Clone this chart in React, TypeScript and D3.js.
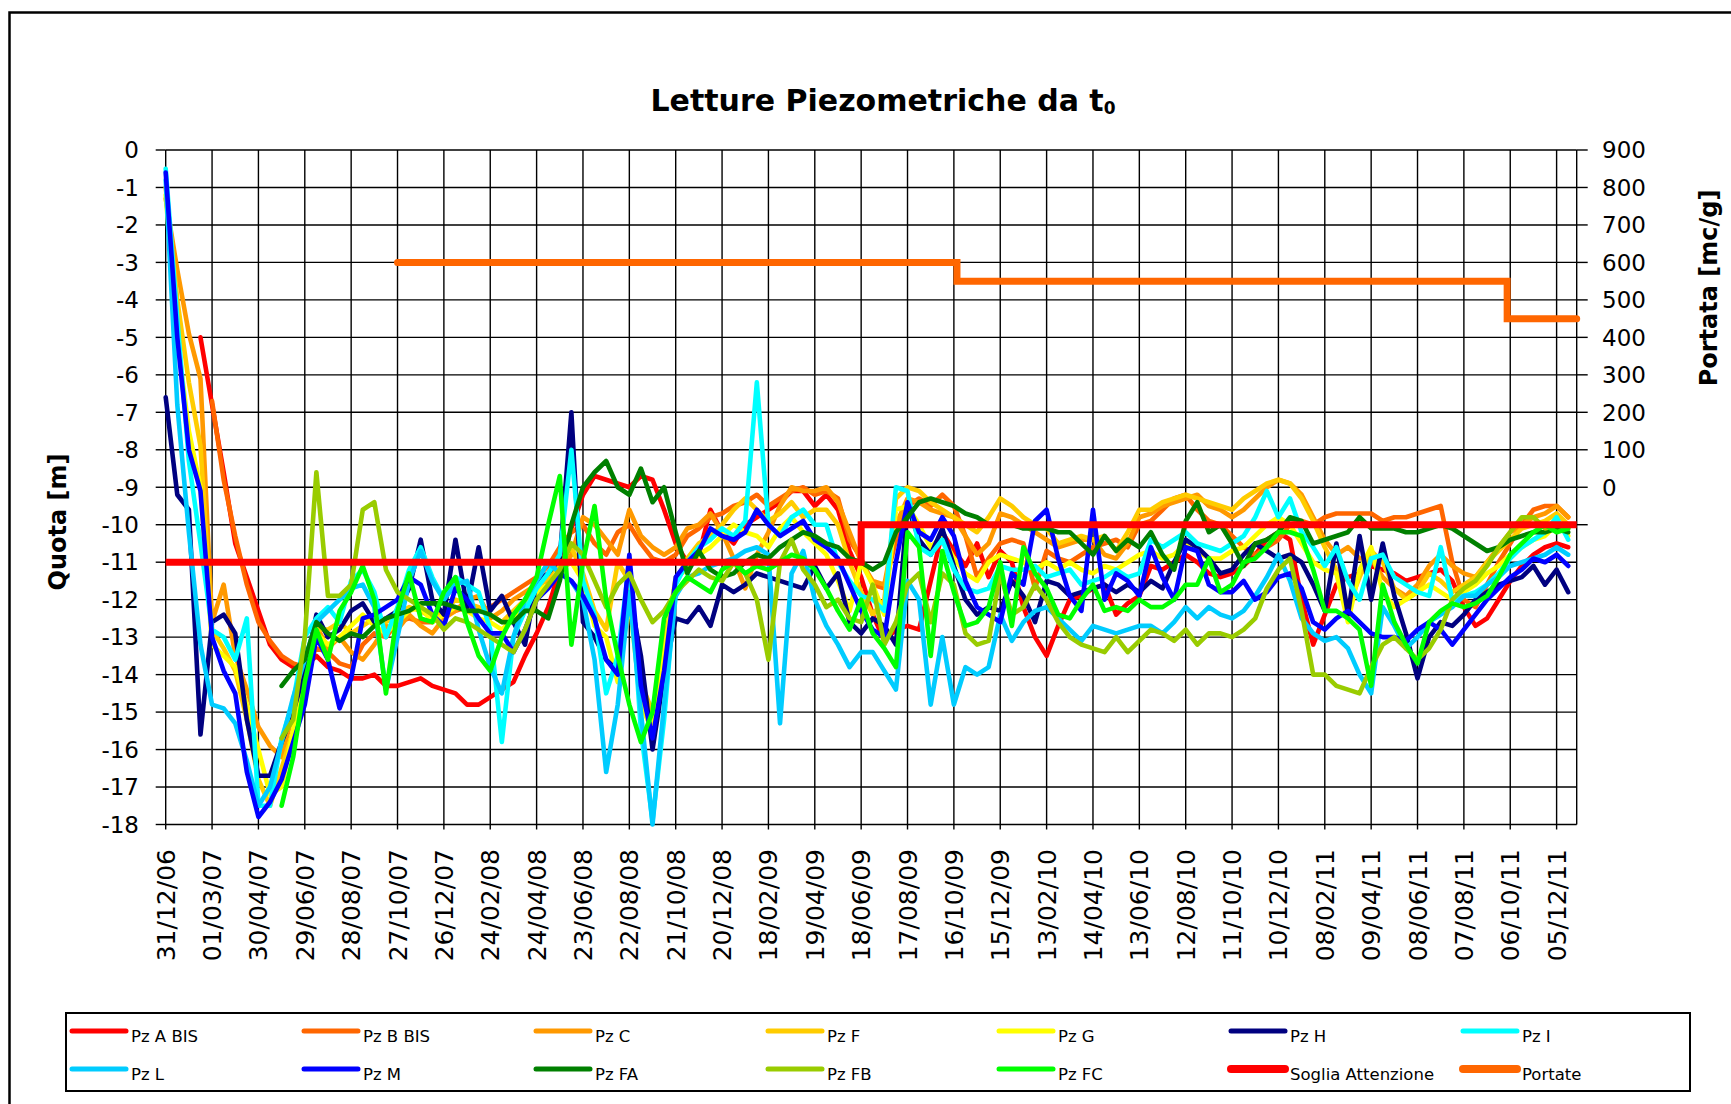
import React from 'react';
import * as d3 from 'd3';

// ---------- data ----------
const START_DATE = '2006-12-31';
const END_DATE = '2011-12-31';
const SAMPLE_STEP_DAYS = 15; // readings sampled every 15 days from START_DATE

const X_TICK_LABELS = [
  '31/12/06', '01/03/07', '30/04/07', '29/06/07', '28/08/07', '27/10/07', '26/12/07',
  '24/02/08', '24/04/08', '23/06/08', '22/08/08', '21/10/08', '20/12/08', '18/02/09',
  '19/04/09', '18/06/09', '17/08/09', '16/10/09', '15/12/09', '13/02/10', '14/04/10',
  '13/06/10', '12/08/10', '11/10/10', '10/12/10', '08/02/11', '09/04/11', '08/06/11',
  '07/08/11', '06/10/11', '05/12/11',
];
const Y_LEFT_TICKS = [0, -1, -2, -3, -4, -5, -6, -7, -8, -9, -10, -11, -12, -13, -14, -15, -16, -17, -18];
const Y_RIGHT_LABELS = [900, 800, 700, 600, 500, 400, 300, 200, 100, 0];
const Y_RIGHT_TICKS = [900, 800, 700, 600, 500, 400, 300, 200, 100, 0, -100];

const PZ_A_BIS = [
  null, null, null, -5.0, -6.8, -8.6, -10.5, -11.4, -12.3, -13.2,
  -13.6, -13.8, -13.8, -13.5, -13.8, -13.9, -14.1, -14.1, -14.0, -14.3,
  -14.3, -14.2, -14.1, -14.3, -14.4, -14.5, -14.8, -14.8, -14.6, -14.4,
  -14.2, -13.5, -12.9, -12.2, -11.2, -10.1, -9.2, -8.7, -8.8, -8.9,
  -9.0, -8.7, -8.8, -9.6, -10.5, -11.0, -10.8, -9.6, -10.2, -10.5,
  -10.0, -9.8, -9.6, -9.4, -9.1, -9.1, -9.5, -9.2, -9.6, -10.7,
  -11.4, -12.4, -13.1, -12.8, -12.7, -12.8, -11.5, -10.2, -10.7, -11.1,
  -10.5, -11.4, -10.7, -11.0, -12.2, -13.0, -13.5, -12.7, -12.0, -11.9,
  -11.7, -11.6, -12.4, -12.1, -11.9, -11.1, -11.2, -11.0, -10.8, -11.0,
  -11.3, -11.4, -11.3, -11.1, -10.8, -10.4, -10.2, -10.4, -12.0, -13.2,
  -12.4, -11.6, -11.4, -11.3, -11.1, -11.2, -11.3, -11.5, -11.4, -11.3,
  -11.2, -11.5, -12.2, -12.7, -12.5, -12.0, -11.5, -11.1, -10.8, -10.6,
  -10.5, -10.6,
];
const PZ_B_BIS = [
  null, null, null, null, -6.7, -8.8, -10.3, -11.6, -12.6, -13.1,
  -13.5, -13.7, -13.8, -13.3, -13.4, -13.7, -13.8, -13.2, -12.9, -13.0,
  -12.6, -12.5, -12.6, -12.6, -12.4, -12.3, -12.2, -12.3, -12.2, -12.0,
  -11.8, -11.6, -11.4, -11.1, -10.6, -10.2, -10.0, -10.5, -10.8, -10.2,
  -10.0, -10.5, -10.9, -11.0, -10.8, -10.3, -10.1, -9.8, -9.7, -9.5,
  -9.4, -9.2, -9.5, -9.3, -9.1, -9.0, -9.2, -9.1, -9.3, -10.4,
  -10.9, -11.6, -11.7, -10.4, -9.5, -9.3, -9.5, -9.2, -9.5, -10.3,
  -11.4, -10.9, -10.5, -10.4, -10.5, -11.7, -10.7, -10.9, -11.0, -10.8,
  -10.6, -10.5, -10.4, -10.6, -10.0, -9.9, -9.6, -9.3, -9.2, -9.6,
  -9.9, -10.0, -10.3, -10.6, -10.8, -10.6, -10.4, -10.0, -9.9, -10.0,
  -9.8, -9.7, -9.7, -9.7, -9.7, -9.9, -9.8, -9.8, -9.7, -9.6,
  -9.5, -11.0, -12.0, -12.2, -11.6, -11.0, -10.5, -10.0, -9.6, -9.5,
  -9.5, -9.8,
];
const PZ_C = [
  -1.3, -3.2, -4.9, -6.1, -12.6, -11.6, -13.5, -14.4, -15.4, -15.9,
  -16.2, -15.0, -14.4, -12.7, -13.3, -13.0, -13.4, -13.6, -13.2, -12.7,
  -12.8, -12.4, -12.7, -12.9, -12.5, -12.3, -12.0, -11.9, -12.5, -12.3,
  -12.0, -11.8, -11.6, -11.5, -11.3, -10.8, -9.8, -10.0, -10.4, -10.8,
  -9.6, -10.3, -10.6, -10.8, -10.6, -10.1, -10.0, -9.7, -10.2, -10.9,
  -11.7, -10.8, -10.2, -9.5, -9.0, -9.1, -9.1, -9.0, -9.4, -10.2,
  -11.0, -11.5, -11.6, -10.0, -9.3, -9.4, -9.6, -9.7, -9.8, -10.3,
  -10.8, -10.5, -9.7, -9.8, -10.0, -10.2, -10.4, -10.6, -10.5, -10.4,
  -10.4, -10.8, -10.9, -10.5, -9.8, -9.7, -9.5, -9.4, -9.3, -9.2,
  -9.5, -9.6, -9.8, -9.6, -9.3, -9.0, -8.8, -8.9, -9.2, -9.8,
  -10.4, -10.8, -10.6, -10.9, -10.9, -11.4, -11.7, -11.9, -11.6, -11.1,
  -10.8, -11.1, -11.3, -11.4, -11.0, -10.6, -10.2, -10.0, -9.8, -9.7,
  -9.5, -9.8,
];
const PZ_F = [
  -1.0, -4.0, -6.2, -7.9, -12.8, -13.3, -13.9, -15.2, -16.8, -17.5,
  -16.5, -15.5, -14.3, -12.8, -12.8, -12.6, -12.9, -12.7, -12.5, -12.6,
  -12.4, -12.2, -12.3, -12.5, -12.3, -12.0, -12.1, -12.2, -12.4, -12.6,
  -12.3, -12.0, -11.7, -11.4, -11.0, -10.6, -11.3, -12.3, -12.8, -11.0,
  -11.5, -14.2, -15.0, -13.2, -11.5, -10.9, -10.5, -10.3, -10.0, -9.6,
  -9.3, -9.6, -9.9, -9.7, -9.4, -9.8, -9.6, -9.6, -10.0, -11.0,
  -11.8, -12.4, -12.0, -9.3, -9.0, -9.1, -9.4, -9.6, -9.8, -10.0,
  -10.2, -9.8, -9.3, -9.5, -9.8, -10.0, -10.1, -10.5, -10.4, -10.3,
  -10.4, -10.3, -10.7, -10.2, -9.6, -9.6, -9.4, -9.3, -9.2, -9.3,
  -9.4, -9.5, -9.6, -9.3, -9.1, -8.9, -8.8, -8.9, -9.3, -9.9,
  -10.6, -11.2, -12.2, -11.4, -10.7, -11.0, -11.7, -12.0, -11.8, -11.3,
  -11.5, -11.8, -11.6, -11.4, -11.0, -10.7, -10.4, -10.1, -10.0, -9.9,
  -9.7, -10.0,
];
const PZ_G = [
  -1.2, -5.0, -7.5, -9.0, -13.2, -13.5, -13.8, -14.8, -16.0, -17.2,
  -17.0, -15.5, -14.0, -12.9, -13.2, -13.0, -12.7, -12.4, -12.7, -12.9,
  -12.6, -12.3, -12.2, -12.6, -12.4, -12.2, -12.3, -12.5, -12.6, -12.8,
  -12.5, -12.2, -11.8, -11.6, -11.2, -11.0, -11.5, -12.7, -13.0, -14.2,
  -12.0, -14.8, -15.5, -13.5, -11.4, -11.2, -10.8, -10.6, -10.3, -10.0,
  -10.2, -10.3, -10.6, -10.1, -9.8, -10.2, -10.5, -10.8, -11.5, -12.3,
  -11.0, -11.6, -12.4, -9.6, -9.5, -10.0, -10.6, -10.3, -10.9, -11.3,
  -11.5, -11.0, -10.8, -10.9, -11.0, -11.2, -11.0, -11.2, -11.0, -11.2,
  -11.3, -11.1, -11.2, -11.0, -10.8, -10.7, -10.9, -10.8, -10.5, -10.7,
  -10.9, -10.9, -10.7, -10.6, -10.3, -10.0, -9.8, -10.0, -10.5, -11.0,
  -11.2, -11.3, -12.6, -11.2, -10.6, -11.8, -12.2, -12.0, -11.8, -11.6,
  -11.8, -12.0, -11.8, -11.6, -11.3, -11.1, -10.8, -10.6, -10.4, -10.3,
  -10.0, -10.3,
];
const PZ_H = [
  -6.6, -9.2, -9.6, -15.6, -12.6, -12.4, -12.9, -15.2, -16.7, -16.7,
  -15.8, -15.0, -13.9, -12.4, -13.0, -12.8, -12.3, -12.1, -12.6, -12.5,
  -12.3, -11.7, -10.4, -12.0, -12.4, -10.4, -12.2, -10.6, -12.3, -11.9,
  -12.6, -13.2, -11.5, -11.3, -10.9, -7.0, -12.6, -13.0, -13.6, -13.9,
  -11.8, -13.5, -16.0, -14.0, -12.5, -12.6, -12.2, -12.7, -11.6, -11.8,
  -11.6, -11.3, -11.4, -11.5, -11.6, -11.7, -11.1, -11.7, -11.3, -12.6,
  -12.9, -12.5, -12.7, -13.2, -9.5, -10.4, -10.8, -10.1, -11.1, -12.0,
  -12.4, -12.2, -12.3, -11.5, -11.9, -12.6, -11.5, -11.6, -11.9, -11.8,
  -11.7, -11.6, -11.8, -11.6, -11.8, -11.5, -11.7, -11.0, -10.4, -10.6,
  -10.9, -11.3, -11.2, -10.8, -10.5, -10.7, -10.9, -10.8, -11.0, -11.6,
  -12.3, -10.5, -12.4, -10.3, -12.0, -10.5, -11.9, -12.9, -14.1, -13.0,
  -12.6, -12.7, -12.4, -12.0, -11.8, -11.6, -11.5, -11.4, -11.1, -11.6,
  -11.2, -11.8,
];
const PZ_I = [
  -0.5, -4.5, -8.3, -10.5, -12.8, -13.0, -13.6, -12.5, -17.5, -17.5,
  -15.7, -14.7, -13.0, -12.5, -12.2, -12.6, -11.5, -11.2, -11.8, -13.0,
  -12.2, -11.2, -10.6, -11.4, -12.0, -11.4, -11.6, -11.8, -12.8, -15.8,
  -13.0, -12.3, -11.7, -11.3, -10.8, -8.0, -11.5, -12.4, -14.5, -13.5,
  -11.0, -15.5, -17.9, -15.2, -11.6, -11.0, -10.6, -10.4, -10.1, -10.3,
  -9.9, -6.2, -10.0, -10.3, -9.8, -9.6, -10.0, -10.0, -11.0, -11.5,
  -11.9, -12.0, -12.3, -9.0, -9.1, -10.6, -10.8, -10.4, -11.2, -11.7,
  -11.8, -11.7, -11.1, -11.2, -11.2, -11.1, -11.4, -11.3, -11.2, -11.6,
  -11.5, -11.4, -11.2, -11.4, -11.3, -10.4, -10.6, -10.4, -10.2, -10.5,
  -10.6, -10.7, -10.5, -10.3, -9.8, -9.1, -9.8, -9.3, -10.2, -10.6,
  -11.1, -10.6, -11.5, -12.0, -10.9, -10.8, -11.4, -11.6, -11.8, -11.9,
  -10.6, -12.0, -11.9, -11.8, -11.6, -11.3, -10.9, -10.6, -10.4, -10.2,
  -9.8, -10.4,
];
const PZ_L = [
  -0.8, -6.8, -10.2, -13.2, -14.8, -14.9, -15.3, -16.3, -17.5, -17.0,
  -15.8, -14.6, -13.6, -12.6, -12.3, -12.0, -11.7, -11.6, -12.2, -14.4,
  -13.0, -11.5, -10.7, -11.5, -12.0, -11.6, -11.5, -12.8, -13.8, -14.5,
  -13.0, -12.0, -11.5, -11.0, -11.3, -11.5, -12.0, -13.6, -16.6, -14.8,
  -11.8, -15.0, -18.0, -14.8, -11.9, -11.4, -11.3, -11.1, -11.0, -10.9,
  -10.7, -10.6, -10.8, -15.3, -11.3, -10.7, -12.0, -12.7, -13.2, -13.8,
  -13.4, -13.4, -13.9, -14.4, -11.5, -12.0, -14.8, -13.0, -14.8, -13.8,
  -14.0, -13.8, -12.4, -13.1, -12.6, -12.3, -12.2, -12.5, -12.8, -13.1,
  -12.7, -12.8, -12.9, -12.8, -12.7, -12.7, -12.9, -12.6, -12.2, -12.5,
  -12.2, -12.4, -12.5, -12.3, -11.9, -11.4, -10.8, -11.5, -12.5, -12.9,
  -13.1, -13.0, -13.3, -14.0, -14.5, -12.2, -12.7, -13.3, -13.0, -12.6,
  -12.4, -12.2, -11.9, -11.9, -11.6, -11.4, -11.1, -11.0, -10.9, -10.8,
  -10.6, -10.8,
];
const PZ_M = [
  -0.6, -5.0, -8.0, -9.1, -13.0, -13.9, -14.5, -16.6, -17.8, -17.4,
  -16.8, -15.8, -14.8, -13.0, -13.6, -14.9, -14.1, -12.5, -12.4, -12.2,
  -12.0, -11.4, -11.6, -12.4, -12.7, -11.7, -12.0, -12.5, -12.9, -12.9,
  -13.4, -12.8, -12.0, -11.7, -11.3, -11.5, -11.9, -12.5, -13.6, -14.0,
  -10.8, -14.3, -15.7, -13.9, -11.4, -11.0, -10.7, -10.1, -10.3, -10.4,
  -10.2, -9.6, -10.0, -10.3, -10.1, -9.9, -10.4, -10.6, -10.9, -11.6,
  -12.3, -12.8, -13.0, -11.0, -9.4, -10.2, -10.4, -9.8, -10.3, -11.5,
  -12.2, -12.4, -12.6, -11.3, -11.6, -9.9, -9.6, -10.9, -11.9, -12.3,
  -9.6, -12.0, -11.3, -11.5, -11.9, -10.6, -11.4, -12.0, -10.6, -10.7,
  -11.6, -11.8, -11.8, -11.5, -12.0, -11.8, -11.4, -11.3, -11.7, -12.6,
  -12.8, -12.5, -12.3, -12.6, -12.9, -13.0, -13.0, -13.1, -12.8, -12.6,
  -12.8, -13.2, -12.8, -12.4, -12.0, -11.7, -11.4, -11.2, -10.9, -11.0,
  -10.8, -11.1,
];
const PZ_FA = [
  null, null, null, null, null, null, null, null, null, null,
  -14.3, -13.9, -13.6, -12.6, -12.9, -13.1, -12.9, -13.0, -12.7, -12.5,
  -12.4, -12.3, -12.1, -12.1, -12.1, -12.2, -12.3, -12.3, -12.4, -12.6,
  -12.6, -12.3, -12.3, -12.5, -11.5, -10.0, -9.0, -8.6, -8.3, -9.0,
  -9.2, -8.5, -9.4, -9.0, -10.2, -11.3, -10.7, -11.2, -11.4, -11.3,
  -11.0, -10.8, -10.9, -10.6, -10.4, -10.2, -10.3, -10.5, -10.6, -10.9,
  -11.0, -11.2, -11.0, -10.2, -9.8, -9.4, -9.3, -9.4, -9.5, -9.7,
  -9.8, -10.0, -10.0, -10.0, -10.1, -10.1, -10.1, -10.2, -10.2, -10.5,
  -10.8, -10.3, -10.7, -10.4, -10.6, -10.2, -10.8, -11.2, -9.9, -9.4,
  -10.2, -10.0, -10.5, -11.1, -10.5, -10.4, -10.2, -9.8, -9.9, -10.5,
  -10.4, -10.3, -10.2, -9.8, -10.1, -10.1, -10.1, -10.2, -10.2, -10.1,
  -10.0, -10.1, -10.3, -10.5, -10.7, -10.6, -10.4, -10.3, -10.2, -10.2,
  -10.1, -10.2,
];
const PZ_FB = [
  null, null, null, null, null, null, null, null, null, null,
  -15.7, -15.2, -13.0, -8.6, -11.9, -11.9, -11.6, -9.6, -9.4, -11.2,
  -11.8, -12.0, -12.2, -12.4, -12.8, -12.5, -12.6, -12.8, -13.0, -13.2,
  -13.4, -12.8, -12.0, -11.6, -11.2, -10.5, -10.8, -11.5, -12.2, -11.6,
  -11.3, -12.0, -12.6, -12.3, -11.8, -11.5, -11.2, -11.4, -11.5, -11.0,
  -11.3, -12.0, -13.6, -11.0, -10.4, -11.2, -11.6, -12.2, -12.0, -12.5,
  -12.6, -11.6, -13.2, -12.6, -11.6, -11.3, -12.6, -11.3, -11.6, -12.9,
  -13.2, -13.1, -11.3, -12.4, -12.2, -11.6, -12.0, -12.6, -13.0, -13.2,
  -13.3, -13.4, -13.0, -13.4, -13.1, -12.8, -12.9, -13.1, -12.8, -13.2,
  -12.9, -12.9, -13.0, -12.8, -12.5, -11.7, -11.2, -10.9, -12.3, -14.0,
  -14.0, -14.3, -14.4, -14.5, -13.8, -13.2, -13.0, -13.3, -13.6, -13.3,
  -12.8, -12.0, -11.7, -11.5, -11.1, -10.6, -10.2, -9.8, -9.8, -10.1,
  -10.0, -10.1,
];
const PZ_FC = [
  null, null, null, null, null, null, null, null, null, null,
  -17.5, -16.2, -14.2, -12.8, -13.6, -12.3, -11.8, -11.1, -12.0, -14.5,
  -12.3, -11.3, -12.5, -12.6, -11.8, -11.4, -12.6, -13.5, -13.9, -13.0,
  -12.4, -12.0, -11.4, -10.0, -8.7, -13.2, -11.0, -9.5, -12.0, -13.5,
  -14.8, -15.8, -15.0, -12.5, -11.8, -11.4, -11.6, -11.8, -11.2, -11.0,
  -11.3, -11.1, -11.2, -11.0, -10.8, -10.9, -11.2, -11.7, -12.3, -12.8,
  -12.0, -12.9, -13.3, -13.8, -10.2, -10.6, -13.5, -10.7, -11.8, -12.7,
  -12.6, -12.2, -11.0, -12.7, -10.6, -11.3, -11.7, -12.4, -12.5, -12.0,
  -11.6, -12.3, -12.2, -12.3, -12.0, -12.2, -12.2, -12.0, -11.6, -11.6,
  -10.9, -11.8, -11.6, -11.0, -10.9, -10.6, -10.2, -10.2, -10.3, -11.2,
  -12.3, -12.3, -12.5, -12.8, -14.3, -11.6, -12.6, -13.2, -13.7, -12.6,
  -12.3, -12.1, -12.2, -12.1, -11.9, -11.4, -10.8, -10.5, -10.2, -10.0,
  -10.2, -10.1,
];

const SOGLIA_DATES = ['2006-12-31', '2009-06-18', '2011-12-31'];
const SOGLIA_VALUES = [-11, -10, -10];
const PORTATE_DATES = ['2007-10-27', '2009-10-20', '2011-10-02', '2011-12-31'];
const PORTATE_VALUES = [600, 550, 450, 450];

const SERIES = [
  { name: 'Pz A BIS', color: '#FF0000', values: PZ_A_BIS },
  { name: 'Pz B BIS', color: '#FF6600', values: PZ_B_BIS },
  { name: 'Pz C', color: '#FF9900', values: PZ_C },
  { name: 'Pz F', color: '#FFCC00', values: PZ_F },
  { name: 'Pz G', color: '#FFFF00', values: PZ_G },
  { name: 'Pz H', color: '#000080', values: PZ_H },
  { name: 'Pz I', color: '#00FFFF', values: PZ_I },
  { name: 'Pz L', color: '#00CCFF', values: PZ_L },
  { name: 'Pz M', color: '#0000FF', values: PZ_M },
  { name: 'Pz FA', color: '#008000', values: PZ_FA },
  { name: 'Pz FB', color: '#99CC00', values: PZ_FB },
  { name: 'Pz FC', color: '#00FF00', values: PZ_FC },
];
const LEGEND_ITEMS = [
  ...SERIES.map((s) => ({ name: s.name, color: s.color, thick: false })),
  { name: 'Soglia Attenzione', color: '#FF0000', thick: true },
  { name: 'Portate', color: '#FF6600', thick: true },
];

// ---------- layout ----------
const W = 1731;
const H = 1104;
const PLOT = { left: 165.7, right: 1576.7, top: 150, bottom: 824.5 };
const FONT_TICK = 'Verdana, "DejaVu Sans", sans-serif';
const FONT_COMIC = '"Comic Sans MS", "DejaVu Sans", sans-serif';

export default function App() {
  const parseIso = d3.timeParse('%Y-%m-%d');
  const parseTick = d3.timeParse('%d/%m/%y');
  const start = parseIso(START_DATE) as Date;
  const end = parseIso(END_DATE) as Date;

  const x = d3.scaleTime().domain([start, end]).range([PLOT.left, PLOT.right]);
  const yL = d3.scaleLinear().domain([-18, 0]).range([PLOT.bottom, PLOT.top]);
  const yR = d3.scaleLinear().domain([-900, 900]).range([PLOT.bottom, PLOT.top]);

  const tickDates = X_TICK_LABELS.map((l) => parseTick(l) as Date);
  const sampleDate = (i: number) => d3.timeDay.offset(start, i * SAMPLE_STEP_DAYS);

  const seriesLine = d3
    .line<number | null>()
    .defined((v) => v != null)
    .x((_, i) => x(sampleDate(i)))
    .y((v) => yL(v as number));

  const sogliaLine = d3
    .line<number>()
    .curve(d3.curveStepAfter)
    .x((_, i) => x(parseIso(SOGLIA_DATES[i]) as Date))
    .y((v) => yL(v));

  const portateLine = d3
    .line<number>()
    .curve(d3.curveStepAfter)
    .x((_, i) => x(parseIso(PORTATE_DATES[i]) as Date))
    .y((v) => yR(v));

  const legendCols = [72, 304, 536, 768, 999, 1231, 1463];
  const legendRows = [1042, 1080];

  return (
    <svg
      width={W}
      height={H}
      style={{ position: 'absolute', left: 0, top: 0, display: 'block', background: '#fff' }}
    >
      {/* outer chart frame */}
      <path d={`M9.5,${H + 5} L9.5,12.5 L${W + 5},12.5`} fill="none" stroke="#000" strokeWidth={2.5} />

      {/* title */}
      <text
        x={883}
        y={111}
        textAnchor="middle"
        fontFamily={FONT_COMIC}
        fontWeight="bold"
        fontSize={30}
        fill="#000"
      >
        Letture Piezometriche da t
        <tspan fontSize={17} dy={3}>
          0
        </tspan>
      </text>

      {/* horizontal gridlines */}
      {Y_LEFT_TICKS.map((t) => (
        <line key={`hg${t}`} x1={PLOT.left} x2={PLOT.right} y1={yL(t)} y2={yL(t)} stroke="#000" strokeWidth={1.4} />
      ))}
      {/* vertical gridlines */}
      {tickDates.map((d, i) => (
        <line key={`vg${i}`} x1={x(d)} x2={x(d)} y1={PLOT.top} y2={PLOT.bottom} stroke="#000" strokeWidth={1.4} />
      ))}
      <line x1={PLOT.right} x2={PLOT.right} y1={PLOT.top} y2={PLOT.bottom} stroke="#000" strokeWidth={1.4} />

      {/* left axis ticks & labels */}
      {Y_LEFT_TICKS.map((t) => (
        <g key={`yl${t}`}>
          <line x1={PLOT.left - 10} x2={PLOT.left} y1={yL(t)} y2={yL(t)} stroke="#000" strokeWidth={1.4} />
          <text
            x={139}
            y={yL(t)}
            dy="0.36em"
            textAnchor="end"
            fontFamily={FONT_TICK}
            fontSize={23}
            fill="#000"
          >
            {t}
          </text>
        </g>
      ))}

      {/* right axis ticks & labels */}
      {Y_RIGHT_TICKS.map((t) => (
        <line key={`yrt${t}`} x1={PLOT.right} x2={PLOT.right + 11} y1={yR(t)} y2={yR(t)} stroke="#000" strokeWidth={1.4} />
      ))}
      {Y_RIGHT_LABELS.map((t) => (
        <text
          key={`yr${t}`}
          x={1602}
          y={yR(t)}
          dy="0.36em"
          textAnchor="start"
          fontFamily={FONT_TICK}
          fontSize={23}
          fill="#000"
        >
          {t}
        </text>
      ))}

      {/* x axis ticks & labels */}
      {tickDates.map((d, i) => (
        <g key={`xt${i}`}>
          <line x1={x(d)} x2={x(d)} y1={PLOT.bottom} y2={PLOT.bottom + 5} stroke="#000" strokeWidth={1.4} />
          <text
            transform={`translate(${x(d)},849) rotate(-90)`}
            dy="0.36em"
            textAnchor="end"
            fontFamily={FONT_TICK}
            fontSize={25}
            fill="#000"
          >
            {X_TICK_LABELS[i]}
          </text>
        </g>
      ))}

      {/* axis titles */}
      <text
        transform="translate(57,522) rotate(-90)"
        dy="0.36em"
        textAnchor="middle"
        fontFamily={FONT_COMIC}
        fontWeight="bold"
        fontSize={24}
        fill="#000"
      >
        Quota [m]
      </text>
      <text
        transform="translate(1708,288) rotate(-90)"
        dy="0.36em"
        textAnchor="middle"
        fontFamily={FONT_COMIC}
        fontWeight="bold"
        fontSize={24}
        fill="#000"
      >
        Portata [mc/g]
      </text>

      {/* data series */}
      <g>
        {SERIES.map((s) => (
          <path
            key={s.name}
            d={seriesLine(s.values) || ''}
            fill="none"
            stroke={s.color}
            strokeWidth={4.6}
            strokeLinejoin="round"
            strokeLinecap="round"
          />
        ))}
        <path d={sogliaLine(SOGLIA_VALUES) || ''} fill="none" stroke="#FF0000" strokeWidth={7} />
        <path d={portateLine(PORTATE_VALUES) || ''} fill="none" stroke="#FF6600" strokeWidth={7} strokeLinecap="round" />
      </g>

      {/* legend */}
      <rect x={66} y={1013} width={1624} height={78} fill="#fff" stroke="#000" strokeWidth={2} />
      {LEGEND_ITEMS.map((item, k) => {
        const col = k % 7;
        const row = Math.floor(k / 7);
        const lx = legendCols[col];
        const by = legendRows[row];
        return (
          <g key={`lg${k}`}>
            <line
              x1={lx}
              x2={lx + 54}
              y1={by - 11}
              y2={by - 11}
              stroke={item.color}
              strokeWidth={item.thick ? 8 : 5}
              strokeLinecap="round"
            />
            <text x={lx + 59} y={by} fontFamily={FONT_COMIC} fontSize={16.5} fill="#000">
              {item.name}
            </text>
          </g>
        );
      })}
    </svg>
  );
}
